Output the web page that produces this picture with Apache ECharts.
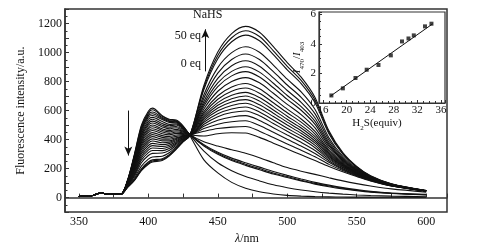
<!DOCTYPE html>
<html>
<head>
<meta charset="utf-8">
<script src="https://cdn.jsdelivr.net/npm/echarts@6/dist/echarts.min.js"></script>
<style>
  html, body { margin: 0; padding: 0; background: #fff; }
  #chart { width: 495px; height: 250px; }
</style>
</head>
<body>
<div id="chart"></div>
<script>
// shared low-wavelength part (all curves overlap here)
const baseWl = [350, 355, 360, 366, 372, 380];
const baseVal = [8, 10, 14, 32, 22, 22];

// wavelengths for each titration curve
const wl = [385, 390, 395, 400, 403, 410, 415, 420, 425, 430, 440, 450, 460, 470, 480, 490, 500, 510, 520, 530, 540, 550, 560, 575, 600];

// fluorescence spectra, 0 eq -> 50 eq NaHS
const spectra = [
  [120, 300, 500, 595, 617, 565, 540, 535, 495, 425, 260, 170, 105, 65, 40, 25, 15, 10, 7, 5, 4, 3, 3, 2, 2],
  [118, 295, 490, 585, 605, 560, 535, 530, 490, 430, 320, 240, 185, 145, 115, 88, 68, 52, 40, 31, 24, 18, 14, 10, 6],
  [116, 290, 480, 575, 590, 552, 530, 526, 487, 432, 355, 298, 255, 222, 192, 162, 138, 115, 93, 75, 60, 48, 38, 28, 18],
  [115, 285, 470, 565, 578, 545, 525, 522, 485, 433, 360, 305, 262, 230, 200, 170, 145, 120, 98, 80, 64, 51, 40, 30, 20],
  [114, 282, 462, 555, 566, 538, 518, 516, 482, 434, 365, 312, 272, 240, 210, 180, 153, 128, 105, 86, 69, 55, 43, 32, 22],
  [112, 278, 452, 540, 553, 525, 505, 508, 478, 434, 385, 355, 330, 305, 275, 240, 207, 182, 160, 137, 115, 96, 80, 60, 38],
  [110, 270, 440, 525, 540, 510, 495, 500, 475, 435, 425, 440, 447, 445, 415, 375, 335, 295, 255, 215, 178, 145, 115, 80, 45],
  [108, 264, 430, 512, 527, 498, 485, 490, 469, 435, 457, 476, 486, 490, 458, 414, 370, 327, 281, 229, 186, 149, 117, 81, 45],
  [106, 257, 419, 499, 514, 487, 474, 481, 462, 434, 476, 506, 523, 530, 497, 450, 402, 355, 304, 243, 193, 153, 119, 82, 45],
  [104, 250, 408, 485, 500, 474, 463, 470, 457, 434, 492, 533, 556, 565, 532, 482, 431, 381, 325, 254, 199, 156, 121, 82, 45],
  [102, 244, 398, 473, 488, 463, 453, 461, 452, 433, 506, 558, 586, 597, 564, 511, 457, 405, 344, 265, 205, 159, 122, 83, 46],
  [100, 238, 388, 460, 475, 452, 443, 452, 446, 433, 519, 578, 611, 624, 590, 535, 478, 424, 360, 274, 210, 162, 123, 84, 46],
  [98, 231, 378, 447, 462, 440, 432, 443, 441, 433, 531, 598, 635, 650, 616, 559, 500, 443, 375, 283, 215, 164, 125, 84, 46],
  [96, 224, 366, 433, 448, 427, 421, 431, 434, 432, 542, 617, 659, 675, 640, 582, 520, 461, 390, 291, 219, 167, 126, 85, 46],
  [94, 217, 355, 419, 434, 415, 411, 422, 428, 432, 553, 636, 682, 700, 665, 604, 540, 480, 405, 300, 224, 169, 127, 85, 46],
  [93, 209, 342, 405, 420, 403, 402, 413, 424, 432, 565, 655, 705, 725, 690, 627, 561, 498, 420, 308, 228, 172, 128, 86, 46],
  [91, 200, 329, 390, 405, 391, 391, 408, 422, 432, 579, 678, 733, 755, 720, 654, 585, 520, 438, 318, 233, 174, 130, 86, 46],
  [89, 192, 315, 375, 390, 378, 381, 400, 419, 432, 593, 702, 762, 786, 750, 682, 610, 542, 456, 328, 239, 177, 131, 87, 46],
  [88, 183, 302, 359, 374, 365, 372, 392, 415, 432, 611, 733, 800, 827, 791, 719, 643, 572, 480, 342, 246, 181, 133, 88, 47],
  [86, 175, 287, 343, 358, 352, 361, 384, 412, 432, 630, 765, 839, 868, 831, 757, 677, 602, 505, 356, 254, 185, 135, 89, 47],
  [84, 166, 273, 327, 342, 338, 350, 376, 408, 432, 646, 791, 870, 902, 865, 788, 704, 627, 525, 367, 260, 188, 137, 89, 47],
  [81, 158, 258, 310, 325, 324, 339, 369, 404, 432, 664, 822, 909, 943, 906, 825, 738, 657, 549, 381, 267, 192, 139, 90, 47],
  [78, 148, 240, 290, 305, 307, 325, 360, 399, 431, 686, 858, 952, 990, 952, 868, 776, 691, 577, 397, 276, 197, 141, 91, 47],
  [74, 135, 217, 265, 280, 285, 309, 349, 392, 431, 709, 896, 999, 1040, 1002, 913, 816, 728, 607, 413, 285, 202, 143, 92, 47],
  [72, 125, 199, 245, 260, 268, 296, 339, 388, 430, 745, 957, 1074, 1120, 1081, 985, 881, 786, 654, 440, 299, 209, 147, 94, 48],
  [71, 121, 192, 237, 252, 262, 291, 336, 386, 430, 759, 980, 1102, 1150, 1110, 1012, 905, 808, 672, 450, 304, 212, 148, 94, 48],
  [70, 118, 186, 230, 245, 256, 287, 333, 384, 430, 773, 1003, 1130, 1180, 1140, 1040, 930, 830, 690, 460, 310, 215, 150, 95, 48]
];

// inset: ratio I470/I403 vs H2S equivalents
const h2sEq = [17.4, 19.35, 21.5, 23.4, 25.4, 27.5, 29.4, 30.5, 31.4, 33.3, 34.4];
const ratio = [0.51, 0.99, 1.69, 2.25, 2.57, 3.22, 4.16, 4.36, 4.57, 5.18, 5.36];
const fitX = [17.2, 34.6];
const fitY = [0.45, 5.35];

// arrows (data coords on the main plot)
const downArrow = [[385.6, 600], [385.6, 290]];
const upArrow = [[441, 870], [441, 1160]];

const FONT = "Liberation Serif";
const INK = "#111";

const chart = echarts.init(document.getElementById("chart"), null, { renderer: "canvas" });

const mainSeries = spectra.map((vals, i) => {
  const data = baseWl.map((x, j) => [x, baseVal[j]]).concat(wl.map((x, j) => [x, vals[j]]));
  const s = {
    type: "line",
    xAxisIndex: 0,
    yAxisIndex: 0,
    data: data,
    smooth: 0.3,
    showSymbol: false,
    silent: true,
    z: 2,
    lineStyle: { color: INK, width: 1.1 },
  };
  if (i === 0) {
    s.markLine = {
      silent: true,
      symbol: ["none", "arrow"],
      symbolSize: [6, 9],
      label: { show: false },
      lineStyle: { color: INK, width: 1, type: "solid" },
      data: [
        [{ coord: downArrow[0] }, { coord: downArrow[1] }],
        [{ coord: upArrow[0] }, { coord: upArrow[1] }],
      ],
    };
  }
  return s;
});

const option = {
  animation: false,
  backgroundColor: "#fff",
  textStyle: { fontFamily: FONT, color: INK },
  grid: [
    { left: 65, top: 9, right: 48, bottom: 34, show: true, borderColor: "#333", borderWidth: 1.5 },
    { left: 319, top: 12, right: 50, bottom: 147, show: true, borderColor: "#333", borderWidth: 1.2, backgroundColor: "#fff", z: 5 },
  ],
  xAxis: [
    {
      type: "value",
      gridIndex: 0,
      min: 340,
      max: 615,
      minInterval: 25,
      maxInterval: 25,
      splitLine: { show: false },
      axisLine: { lineStyle: { color: "#333", width: 1.5 } },
      axisTick: { inside: true, length: 4, lineStyle: { color: "#333" } },
      axisLabel: {
        margin: 4,
        fontFamily: FONT,
        fontSize: 12,
        color: INK,
        formatter: (v) => (v % 50 === 0 && v >= 350 && v <= 600 ? String(v) : ""),
      },
      name: "{i|λ}/nm",
      nameLocation: "middle",
      nameGap: 20,
      nameTextStyle: {
        fontFamily: FONT,
        fontSize: 12,
        color: INK,
        padding: [0, 18, 0, 0],
        rich: { i: { fontStyle: "italic", fontFamily: FONT, fontSize: 12, color: INK } },
      },
    },
    {
      type: "value",
      gridIndex: 1,
      min: 15.3,
      max: 36.7,
      minInterval: 4,
      maxInterval: 4,
      z: 6,
      splitLine: { show: false },
      axisLine: { lineStyle: { color: "#333", width: 1.2 } },
      axisTick: { inside: true, length: 3, lineStyle: { color: "#333" } },
      minorTick: { show: true, splitNumber: 4, length: 2, lineStyle: { color: "#333" } },
      axisLabel: {
        margin: 2,
        fontFamily: FONT,
        fontSize: 11,
        color: INK,
        formatter: (v) => (Math.abs(v % 4) < 1e-6 ? String(v) : ""),
      },
      name: "{n|H}{s|2}{n|S(equiv)}",
      nameLocation: "middle",
      nameGap: 15,
      nameTextStyle: {
        fontFamily: FONT,
        fontSize: 11,
        color: INK,
        padding: [0, 10, 0, 0],
        rich: {
          n: { fontFamily: FONT, fontSize: 11, color: INK, verticalAlign: "top", lineHeight: 14 },
          s: { fontFamily: FONT, fontSize: 7, color: INK, verticalAlign: "bottom", lineHeight: 14 },
        },
      },
    },
  ],
  yAxis: [
    {
      type: "value",
      gridIndex: 0,
      min: -100,
      max: 1300,
      interval: 100,
      splitLine: { show: false },
      axisLine: { lineStyle: { color: "#333", width: 1.5 } },
      axisTick: { inside: true, length: 4, lineStyle: { color: "#333" } },
      minorTick: { show: true, splitNumber: 2, length: 2.5, lineStyle: { color: "#333" } },
      axisLabel: {
        margin: 3,
        fontFamily: FONT,
        fontSize: 12,
        color: INK,
        formatter: (v) => (v >= 0 && v <= 1200 && v % 200 === 0 ? String(v) : ""),
      },
      name: "Fluorescence intensity/a.u.",
      nameLocation: "middle",
      nameGap: 34,
      nameTextStyle: { fontFamily: FONT, fontSize: 12, color: INK },
    },
    {
      type: "value",
      gridIndex: 1,
      min: 0,
      max: 6.15,
      interval: 2,
      z: 6,
      splitLine: { show: false },
      axisLine: { lineStyle: { color: "#333", width: 1.2 } },
      axisTick: { inside: true, length: 3, lineStyle: { color: "#333" } },
      minorTick: { show: true, splitNumber: 4, length: 2, lineStyle: { color: "#333" } },
      axisLabel: {
        margin: 3,
        fontFamily: FONT,
        fontSize: 11,
        color: INK,
        formatter: (v) => (Math.abs(v % 2) < 1e-6 ? String(v) : ""),
      },
      name: "{i|I}{s|470}{n|/}{i|I}{s|403}",
      nameLocation: "middle",
      nameGap: 13,
      nameRotate: 90,
      nameTextStyle: {
        fontFamily: FONT,
        fontSize: 11,
        color: INK,
        rich: {
          i: { fontFamily: FONT, fontStyle: "italic", fontSize: 11, color: INK, verticalAlign: "top", lineHeight: 14 },
          n: { fontFamily: FONT, fontSize: 11, color: INK, verticalAlign: "top", lineHeight: 14 },
          s: { fontFamily: FONT, fontSize: 7, color: INK, verticalAlign: "bottom", lineHeight: 14 },
        },
      },
    },
  ],
  graphic: [
    { type: "text", left: 193, top: 9, z: 10, style: { text: "NaHS", font: "12px " + FONT, fill: INK } },
    { type: "text", right: 294, top: 30, z: 10, style: { text: "50 eq", font: "12px " + FONT, fill: INK } },
    { type: "text", right: 294, top: 58, z: 10, style: { text: "0 eq", font: "12px " + FONT, fill: INK } },
  ],
  series: mainSeries.concat([
    {
      type: "line",
      xAxisIndex: 1,
      yAxisIndex: 1,
      data: fitX.map((x, j) => [x, fitY[j]]),
      showSymbol: false,
      silent: true,
      z: 7,
      lineStyle: { color: INK, width: 1 },
    },
    {
      type: "scatter",
      xAxisIndex: 1,
      yAxisIndex: 1,
      data: h2sEq.map((x, j) => [x, ratio[j]]),
      symbol: "rect",
      symbolSize: 4,
      silent: true,
      z: 8,
      itemStyle: { color: INK },
    },
  ]),
};

chart.setOption(option);
</script>
</body>
</html>
